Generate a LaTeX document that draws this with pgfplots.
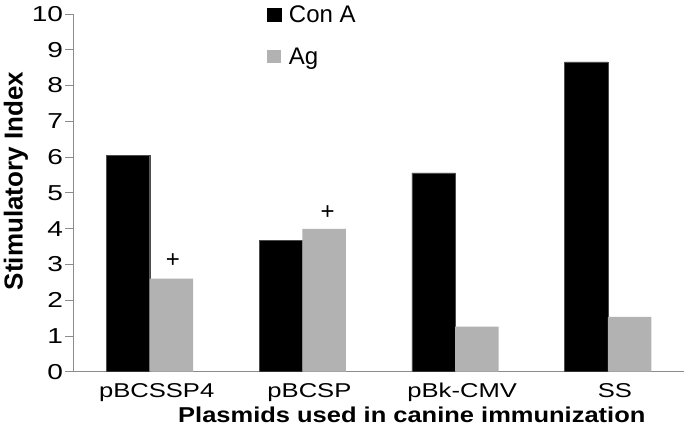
\documentclass[border=0pt]{standalone}
\usepackage{pgfplots}
\pgfplotsset{compat=1.18}
\usepackage{graphicx}
\usepackage{fontspec}
\setmainfont{Liberation Sans}
\definecolor{agray}{HTML}{B2B2B2}
\definecolor{axgray}{HTML}{8C8C8C}
\newcommand{\wx}[2]{\scalebox{#1}[1]{#2}}
\begin{document}
\begin{tikzpicture}
\begin{axis}[
  scale only axis, width=611pt, height=357.7pt,
  ybar=0pt, bar width=0.284,
  xmin=-0.5, xmax=3.5, ymin=0, ymax=10,
  xtick={0,1,2,3},
  xticklabels={\wx{1.28}{pBCSSP4},\wx{1.28}{pBCSP},\wx{1.28}{pBk-CMV},\wx{1.28}{SS}},
  ytick={0,1,...,10},
  yticklabel={\wx{1.3}{\pgfmathprintnumber{\tick}}},
  axis x line*=bottom, axis y line*=left,
  axis line style={axgray, line width=0.8pt},
  x tick style={draw=none},
  y tick style={axgray, line width=0.8pt},
  major tick length=8pt, tick align=outside,
  /pgf/number format/assume math mode=true,
  yticklabel style={font=\fontsize{21.6}{21.6}\selectfont, inner sep=2pt},
  xticklabel style={font=\fontsize{20}{20}\selectfont, inner sep=1pt, xshift=7pt, yshift=-2.5pt},
  xlabel={\wx{1.185}{Plasmids used in canine immunization}},
  ylabel={Stimulatory Index},
  xlabel style={font=\bfseries\fontsize{21.5}{21.5}\selectfont, at={(axis description cs:0.554,-0.141)}, anchor=base},
  ylabel style={font=\bfseries\fontsize{26}{26}\selectfont, at={(axis description cs:-0.0828,0.533)}, anchor=base},
  legend style={draw=none, fill=none, font=\fontsize{24}{24}\selectfont,
    at={(axis description cs:0.317,1.024)}, anchor=north west, row sep=24pt, column sep=8pt,
    inner sep=0pt, nodes={inner sep=0pt}},
  legend cell align=left,
]
\addplot[fill=black, draw=black!70, line width=0.3pt,
  legend image code/.code={\fill[black] (0pt,-6.5pt) rectangle (13.5pt,7pt);}]
  coordinates {(0,6.05) (1,3.68) (2,5.56) (3,8.66)};
\addlegendentry{Con A}
\addplot[fill=agray, draw=none,
  legend image code/.code={\fill[agray] (0pt,-6.5pt) rectangle (13.5pt,7pt);}]
  coordinates {(0,2.60) (1,3.99) (2,1.26) (3,1.53)};
\addlegendentry{Ag}
\node[font=\fontsize{24}{24}\selectfont, inner sep=0pt] at (axis cs:0.152,3.10) {+};
\node[font=\fontsize{24}{24}\selectfont, inner sep=0pt] at (axis cs:1.165,4.44) {+};
\end{axis}
\pgfresetboundingbox
\path[use as bounding box] (-73.3pt,-67.3pt) rectangle (611.7pt,371.7pt);
\end{tikzpicture}
\end{document}
